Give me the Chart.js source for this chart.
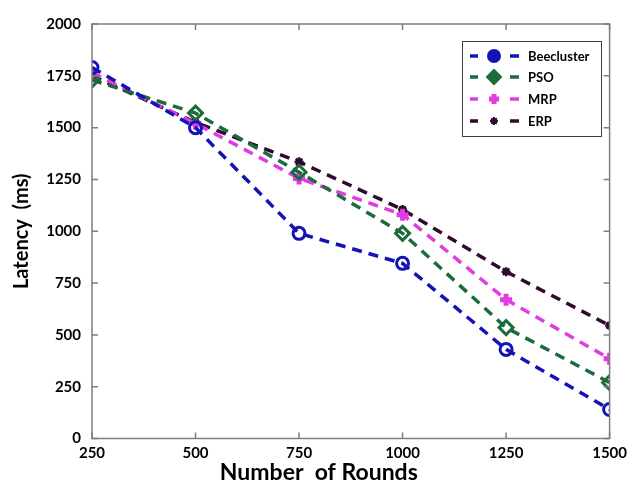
<!DOCTYPE html>
<html>
<head>
<meta charset="utf-8">
<script src="https://cdn.jsdelivr.net/npm/chart.js@4.4.1/dist/chart.umd.min.js"></script>
<style>
  html, body { margin: 0; padding: 0; background: #fff; }
  #wrap { width: 633px; height: 488px; }
</style>
</head>
<body>
<div id="wrap"><canvas id="latency"></canvas></div>
<script>
// rounds on the x axis, latency (ms) per protocol
const rounds = [250, 500, 750, 1000, 1250, 1500];
const beecluster = [1790, 1500, 990, 845, 430, 140];
const pso = [1730, 1570, 1285, 990, 535, 270];
const mrp = [1765, 1520, 1255, 1080, 670, 385];
const erp = [1750, 1525, 1335, 1105, 805, 545];
const yTicks = [0, 250, 500, 750, 1000, 1250, 1500, 1750, 2000];

const axisGray = '#7f7f7f';
const fontFamily = 'Lato, "Open Sans", sans-serif';

function series(label, values, color, style, extra) {
  return Object.assign({
    label: label,
    data: values.map((v, i) => ({ x: rounds[i], y: v })),
    borderColor: color,
    backgroundColor: color,
    borderWidth: 3.5,
    borderDash: [10, 7],
    pointStyle: style,
    pointRadius: 6,
    pointBorderWidth: 3,
    pointBorderColor: color,
    pointBackgroundColor: 'rgba(255,255,255,0)',
    legendRadius: 6,
    tension: 0,
    fill: false
  }, extra || {});
}

// plot frame, inward tick marks, x title and the boxed legend
const framePlugin = {
  id: 'frame',
  afterDraw(chart) {
    const { ctx, chartArea: a, scales } = chart;
    ctx.save();
    ctx.strokeStyle = axisGray;
    ctx.lineWidth = 1.5;
    ctx.strokeRect(a.left, a.top, a.right - a.left, a.bottom - a.top);
    ctx.beginPath();
    yTicks.forEach(v => {
      const y = scales.y.getPixelForValue(v);
      ctx.moveTo(a.left, y); ctx.lineTo(a.left + 6, y);
      ctx.moveTo(a.right, y); ctx.lineTo(a.right - 6, y);
    });
    rounds.forEach(v => {
      const x = scales.x.getPixelForValue(v);
      ctx.moveTo(x, a.bottom); ctx.lineTo(x, a.bottom - 6);
      ctx.moveTo(x, a.top); ctx.lineTo(x, a.top + 6);
    });
    ctx.stroke();

    ctx.fillStyle = '#000';
    ctx.font = 'bold 23px ' + fontFamily;
    ctx.textAlign = 'center';
    ctx.textBaseline = 'middle';
    ctx.fillText('Number  of Rounds', (a.left + a.right) / 2 - 32, 473);

    // legend
    const lx = 462, ly = 41, lw = 139, lh = 95;
    ctx.fillStyle = '#fff';
    ctx.fillRect(lx, ly, lw, lh);
    ctx.strokeStyle = '#404040';
    ctx.lineWidth = 1;
    ctx.strokeRect(lx + 0.5, ly + 0.5, lw, lh);
    const rows = [56, 77, 99, 121];
    chart.data.datasets.forEach((ds, i) => {
      const y = rows[i];
      ctx.strokeStyle = ds.borderColor;
      ctx.lineWidth = 3.5;
      ctx.beginPath();
      ctx.moveTo(470, y); ctx.lineTo(478, y);
      ctx.moveTo(510, y); ctx.lineTo(519, y);
      ctx.stroke();
      ctx.fillStyle = ds.borderColor;
      const bw = ds.pointStyle === 'cross' ? 5 : 2;
      ctx.lineWidth = bw;
      Chart.helpers.drawPoint(ctx, {
        pointStyle: ds.pointStyle,
        radius: ds.legendRadius,
        borderWidth: bw,
        rotation: 0
      }, 494, y);
      ctx.fillStyle = '#000';
      ctx.font = 'bold 13px ' + fontFamily;
      ctx.textBaseline = 'middle';
      ctx.textAlign = 'left';
      ctx.fillText(ds.label, 528, y + 1);
    });
    ctx.restore();
  }
};

new Chart(document.getElementById('latency'), {
  type: 'line',
  data: {
    datasets: [
      series('Beecluster', beecluster, '#1414b4', 'circle'),
      series('PSO', pso, '#1b6b3c', 'rectRot', { pointRadius: 7, legendRadius: 7 }),
      series('MRP', mrp, '#e03ce0', 'cross', { pointBorderWidth: 5, legendRadius: 5 }),
      series('ERP', erp, '#2e0a2e', 'star', { pointRadius: 4.5, pointBorderWidth: 2.5, legendRadius: 4 })
    ]
  },
  options: {
    responsive: true,
    maintainAspectRatio: false,
    animation: false,
    layout: { padding: { top: 24, right: 19, left: 0, bottom: 0 } },
    plugins: {
      legend: { display: false },
      tooltip: { enabled: false }
    },
    scales: {
      x: {
        type: 'linear',
        min: 250,
        max: 1500,
        afterFit: s => { s.height = 49.5; },
        afterBuildTicks: s => { s.ticks = rounds.map(v => ({ value: v })); },
        grid: { display: false, drawTicks: false },
        border: { display: false },
        ticks: {
          padding: 6,
          color: '#000',
          callback: v => String(v),
          font: { family: fontFamily, size: 15, weight: 'bold' }
        }
      },
      y: {
        min: 0,
        max: 2000,
        afterFit: s => { s.width = 92; },
        afterBuildTicks: s => { s.ticks = yTicks.map(v => ({ value: v })); },
        grid: { display: false, drawTicks: false },
        border: { display: false },
        ticks: {
          padding: 11,
          color: '#000',
          callback: v => String(v),
          font: { family: fontFamily, size: 15, weight: 'bold' }
        },
        title: {
          display: true,
          text: 'Latency  (ms)',
          color: '#000',
          padding: { top: 10, bottom: 6 },
          font: { family: fontFamily, size: 20, weight: 'bold' }
        }
      }
    }
  },
  plugins: [framePlugin]
});
</script>
</body>
</html>
